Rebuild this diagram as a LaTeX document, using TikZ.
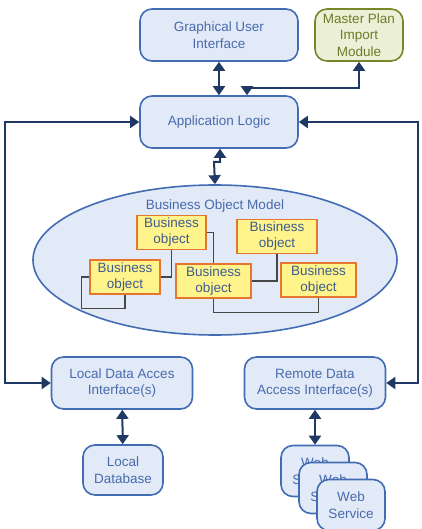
\documentclass[tikz,border=0pt]{standalone}
\usepackage{fontspec}
\setmainfont{Liberation Sans}
\definecolor{BoxFill}{RGB}{226,234,247}
\definecolor{BoxBorder}{RGB}{66,108,180}
\definecolor{BoxText}{RGB}{72,106,172}
\definecolor{LinkColor}{RGB}{31,56,100}
\definecolor{PlanFill}{RGB}{236,240,214}
\definecolor{PlanBorder}{RGB}{122,132,42}
\definecolor{PlanText}{RGB}{112,122,40}
\definecolor{ObjFill}{RGB}{255,243,140}
\definecolor{ObjBorder}{RGB}{228,118,48}
\definecolor{ObjText}{RGB}{62,92,142}
\definecolor{WireColor}{RGB}{70,70,70}
\usetikzlibrary{positioning,arrows.meta,shapes.geometric,calc}
\tikzset{
  % Rounded component box
  appbox/.style={
    rectangle,
    rounded corners=12pt,
    draw=BoxBorder,
    fill=BoxFill,
    line width=1.6pt,
    text=BoxText,
    align=center,
    inner sep=0pt,
    font=\fontsize{13.5}{16.5}\selectfont
  },
  % External module box
  planbox/.style={
    appbox,
    draw=PlanBorder,
    fill=PlanFill,
    text=PlanText
  },
  % Business object
  bobj/.style={
    rectangle,
    draw=ObjBorder,
    fill=ObjFill,
    line width=1.3pt,
    text=ObjText,
    align=center,
    inner sep=0pt,
    minimum height=34pt,
    font=\fontsize{13.5}{16}\selectfont
  },
  % Two-way connector
  link/.style={
    draw=LinkColor,
    line width=2pt,
    {Triangle[length=9pt,width=12pt]}-{Triangle[length=9pt,width=12pt]}
  },
  % Object reference line
  wire/.style={
    draw=WireColor,
    line width=1.2pt
  }
}
\begin{document}
\begin{tikzpicture}[x=1pt,y=-1pt]
  \useasboundingbox (0,0) rectangle (421,529);

  % top row
  \node[appbox, minimum width=158pt, minimum height=52pt] (gui) at (219,35) {Graphical User\\Interface};
  \node[planbox, minimum width=88pt, minimum height=52pt] (plan) at (359,35) {Master Plan\\Import\\Module};
  \node[appbox, minimum width=158pt, minimum height=52pt] (logic) at (219,122) {Application Logic};

  % business object model
  \node[ellipse, draw=BoxBorder, fill=BoxFill, line width=1.6pt,
        minimum width=364pt, minimum height=150pt] (bom) at (215,260) {};
  \node[text=BoxText, font=\fontsize{13.5}{16}\selectfont] (bomlabel) at (215,206) {Business Object Model};
  \node[bobj, minimum width=69pt] (bo1) at (171.5,232.5) {Business\\object};
  \node[bobj, minimum width=80pt] (bo2) at (277,236.5) {Business\\object};
  \node[bobj, minimum width=70pt] (bo3) at (125,277) {Business\\object};
  \node[bobj, minimum width=75pt] (bo4) at (213.5,281) {Business\\object};
  \node[bobj, minimum width=75pt] (bo5) at (318.5,280) {Business\\object};

  \draw[wire] (bo1.south) |- (bo3.east);
  \draw[wire] (bo3.west) -- ++(-8,0) |- ([yshift=-14pt]bo3.south) -- (bo3.south);
  \draw[wire] (bo1.east) -| (bo4.north);
  \draw[wire] (bo4.east) -| (bo2.south);
  \draw[wire] (bo4.south) -- ++(0,14) -| (bo5.south);

  % data access layer
  \node[appbox, minimum width=141pt, minimum height=52pt] (local) at (122,383) {Local Data Acces\\Interface(s)};
  \node[appbox, minimum width=141pt, minimum height=52pt] (remote) at (315,383) {Remote Data\\Access Interface(s)};
  \node[appbox, minimum width=80pt, minimum height=50pt] (db) at (123,470) {Local\\Database};
  \node[appbox, minimum width=68pt, minimum height=51pt] (ws1) at (315,471) {Web\\Service};
  \node[appbox, minimum width=68pt, minimum height=51pt] (ws2) at (333,488) {Web\\Service};
  \node[appbox, minimum width=68pt, minimum height=51pt] (ws3) at (351,505) {Web\\Service};

  % connectors
  \coordinate (planbend) at (247,88);
  \coordinate (leftrail) at (5,0);
  \coordinate (rightrail) at (418,0);
  \coordinate (bomjog) at (220,162);
  \draw[link] (gui) -- (logic);
  \draw[link] (plan.south) |- (planbend) -- (planbend |- logic.north);
  \draw[link] (logic.west) -- (logic.west -| leftrail) -- (local.west -| leftrail) -- (local.west);
  \draw[link] (logic.east) -- (logic.east -| rightrail) -- (remote.east -| rightrail) -- (remote.east);
  \draw[link] (logic.south -| bomjog) -- (bomjog) -- ++(-6,0) -- (bom.north);
  \draw[link] (local) -- (db);
  \draw[link] (remote.south) -- (ws1.north);
\end{tikzpicture}
\end{document}
